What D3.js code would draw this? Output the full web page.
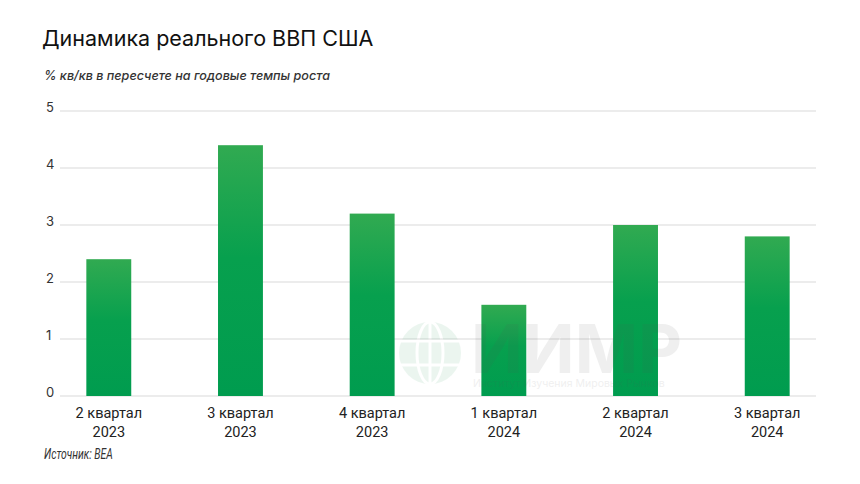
<!DOCTYPE html>
<html><head><meta charset="utf-8">
<script src="https://cdn.jsdelivr.net/npm/d3@7/dist/d3.min.js"></script>
<style>
body{margin:0;background:#fff;}
svg{display:block;font-family:Inter, "Noto Sans", sans-serif;}
</style></head>
<body>
<script>
const categories = ["2 квартал\n2023","3 квартал\n2023","4 квартал\n2023","1 квартал\n2024","2 квартал\n2024","3 квартал\n2024"];
const values = [2.4, 4.4, 3.2, 1.6, 3.0, 2.8];
const yTicks = [0,1,2,3,4,5];
const title = "Динамика реального ВВП США";
const subtitle = "% кв/кв в пересчете на годовые темпы роста";
const source = "Источник: BEA";

const W = 860, H = 484;
const svg = d3.select("body").append("svg").attr("width", W).attr("height", H);

const defs = svg.append("defs");
const grad = defs.append("linearGradient").attr("id","bg").attr("x1",0).attr("y1",0).attr("x2",0).attr("y2",1);
grad.append("stop").attr("offset","0%").attr("stop-color","#31aa51");
grad.append("stop").attr("offset","45%").attr("stop-color","#07a04e");
grad.append("stop").attr("offset","100%").attr("stop-color","#009c4f");

const x = d3.scaleBand().domain(categories).range([60, 816]).paddingInner(0.659).paddingOuter(0.2);
const y = d3.scaleLinear().domain([0,5]).range([396, 111]);

// grid
svg.append("g").selectAll("line").data(yTicks).join("line")
  .attr("x1", 60).attr("x2", 816)
  .attr("y1", d => y(d)).attr("y2", d => y(d))
  .attr("stroke", "#d9d9d9").attr("stroke-width", 1);

// y labels
svg.append("g").selectAll("text").data(yTicks).join("text")
  .attr("x", 46).attr("y", d => y(d) + 1)
  .attr("font-size", 13).attr("fill", "#333")
  .text(d => d);

// bars
svg.append("g").selectAll("rect").data(values).join("rect")
  .attr("x", (d,i) => x(categories[i]))
  .attr("width", x.bandwidth())
  .attr("y", d => y(d))
  .attr("height", d => y(0) - y(d))
  .attr("fill", "url(#bg)");

// watermark
const wm = svg.append("g").attr("opacity", 0.09);
const gx = 430, gy = 353, gr = 31;
wm.append("circle").attr("cx", gx).attr("cy", gy).attr("r", gr).attr("fill", "#2a9d5a");
const wl = wm.append("g").attr("stroke","#fff").attr("stroke-width",3).attr("fill","none");
wl.append("ellipse").attr("cx",gx).attr("cy",gy).attr("rx",13).attr("ry",gr);
wl.append("line").attr("x1",gx-gr).attr("x2",gx+gr).attr("y1",gy-12).attr("y2",gy-12);
wl.append("line").attr("x1",gx-gr).attr("x2",gx+gr).attr("y1",gy+12).attr("y2",gy+12);
wl.append("line").attr("x1",gx).attr("x2",gx).attr("y1",gy-gr).attr("y2",gy+gr);
wm.append("text").attr("x", 471).attr("y", 373).attr("font-size", 68).attr("font-weight", 700)
  .attr("fill", "#555").attr("font-family","Inter, sans-serif").text("ИИМР");
wm.append("text").attr("x", 473).attr("y", 387).attr("font-size", 10.5)
  .attr("fill", "#555").text("Институт Изучения Мировых Рынков");

// x labels
const xl = svg.append("g").selectAll("text").data(categories).join("text")
  .attr("text-anchor", "middle")
  .attr("font-size", 14.5).attr("fill", "#222")
  .attr("font-family", "Roboto, sans-serif");
xl.each(function(d){
  const t = d3.select(this);
  const cx = x(d) + x.bandwidth()/2;
  d.split("\n").forEach((line, k) => {
    t.append("tspan").attr("x", cx).attr("y", 418 + k*19).text(line);
  });
});

// title etc
svg.append("text").attr("x", 42).attr("y", 46).attr("font-size", 21.5).attr("fill", "#111")
  .attr("font-family", "Inter, sans-serif").text(title);
svg.append("text").attr("x", 44).attr("y", 80).attr("font-size", 12.6).attr("font-style","italic")
  .attr("font-weight", 500).attr("fill", "#333").text(subtitle);
svg.append("text").attr("transform", "translate(44,459) scale(0.74,1)").attr("font-size", 14).attr("font-style","italic")
  .attr("fill", "#333").attr("font-family", "Roboto, sans-serif").text(source);
</script>
</body></html>
